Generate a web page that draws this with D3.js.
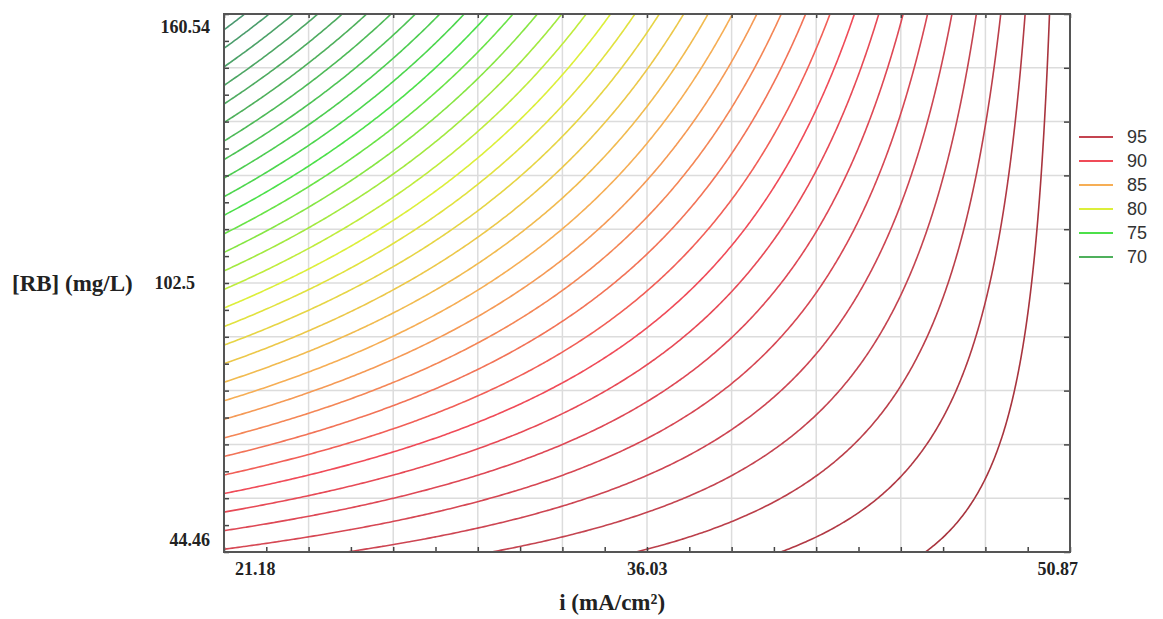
<!DOCTYPE html>
<html>
<head>
<meta charset="utf-8">
<script src="https://cdn.jsdelivr.net/npm/d3@7"></script>
<style>
  body { margin: 0; background: #fff; }
</style>
</head>
<body>
<div id="chart"></div>
<script>
// axis ranges and labels
const iRange = [21.18, 50.87];
const rbRange = [44.46, 160.54];
const xLabels = [21.18, 36.03, 50.87];
const yLabels = [44.46, 102.5, 160.54];

// response surface: Y = b0 + b1*i + b2*RB + b12*i*RB
const modelTerms = ["b0", "i", "RB", "i*RB"];
const modelCoefs = [107.964, -0.1750, -0.42706, 0.008368];

// contour levels drawn (one line per unit)
const levels = [65, 66, 67, 68, 69, 70, 71, 72, 73, 74, 75, 76, 77, 78, 79, 80, 81,
  82, 83, 84, 85, 86, 87, 88, 89, 90, 91, 92, 93, 94, 95, 96, 97, 98];

// colour ramp of the lines
const colorLevels = [65, 70, 75, 80, 85, 90, 95, 98];
const colorValues = ["#4a9870", "#4fb05c", "#4ce04a", "#dcef3a", "#f6ae55", "#f04b58", "#c44450", "#a8343e"];

// legend
const legendLevels = [95, 90, 85, 80, 75, 70];

const margin = {top: 14, right: 93, bottom: 67, left: 224},
  width = 1163 - margin.left - margin.right,
  height = 619 - margin.top - margin.bottom;

const svg = d3.select("#chart")
  .append("svg")
    .attr("width", width + margin.left + margin.right)
    .attr("height", height + margin.top + margin.bottom)
  .append("g")
    .attr("transform", `translate(${margin.left},${margin.top})`);

const x = d3.scaleLinear().domain(iRange).range([0, width]);
const y = d3.scaleLinear().domain(rbRange).range([height, 0]);

const color = d3.scaleLinear().domain(colorLevels).range(colorValues).clamp(true);

const resp = (i, rb) => modelCoefs[0] + modelCoefs[1] * i + modelCoefs[2] * rb + modelCoefs[3] * i * rb;

// grid slightly larger than the plot so the outer ring edges fall outside the clip
const nx = 320, ny = 240;
const iExt = [iRange[0] - 1, iRange[1] + 1];
const rbExt = [rbRange[0] - 4, rbRange[1] + 4];
const gi = d3.scaleLinear().domain([0.5, nx - 0.5]).range(iExt);
const grb = d3.scaleLinear().domain([0.5, ny - 0.5]).range(rbExt);

const values = new Array(nx * ny);
for (let r = 0; r < ny; r++) {
  for (let c = 0; c < nx; c++) {
    values[r * nx + c] = resp(gi(c + 0.5), grb(r + 0.5));
  }
}

const contours = d3.contours().size([nx, ny]).thresholds(levels)(values);

const path = d3.geoPath(d3.geoTransform({
  point: function(px, py) { this.stream.point(x(gi(px)), y(grb(py))); }
}));

svg.append("clipPath").attr("id", "plotclip")
  .append("rect").attr("width", width).attr("height", height);

// grid
const gridX = d3.range(11).map(k => iRange[0] + k * (iRange[1] - iRange[0]) / 10);
const gridY = d3.range(11).map(k => rbRange[0] + k * (rbRange[1] - rbRange[0]) / 10);
svg.append("g").selectAll("line").data(gridX).enter().append("line")
  .attr("x1", d => x(d)).attr("x2", d => x(d))
  .attr("y1", 0).attr("y2", height)
  .attr("stroke", "#dcdcdc").attr("stroke-width", 1.5);
svg.append("g").selectAll("line").data(gridY).enter().append("line")
  .attr("y1", d => y(d)).attr("y2", d => y(d))
  .attr("x1", 0).attr("x2", width)
  .attr("stroke", "#dcdcdc").attr("stroke-width", 1.5);

// contour lines
svg.append("g")
  .attr("clip-path", "url(#plotclip)")
  .selectAll("path")
  .data(contours)
  .enter()
  .append("path")
    .attr("d", path)
    .attr("fill", "none")
    .attr("stroke", d => color(d.value))
    .attr("stroke-width", 1.6)
    .attr("stroke-linejoin", "round");

// ticks, all pointing inward
const minorX = d3.range(21).map(k => iRange[0] + k * (iRange[1] - iRange[0]) / 20);
const minorY = d3.range(21).map(k => rbRange[0] + k * (rbRange[1] - rbRange[0]) / 20);

const styleAxis = g => {
  g.select(".domain").remove();
  g.selectAll(".tick line").attr("stroke", "#444").attr("stroke-width", 1.5);
  g.selectAll(".tick text").remove();
};

svg.append("g").attr("transform", `translate(0,${height})`)
  .call(d3.axisBottom(x).tickValues(minorX).tickSize(-5)).call(styleAxis);
svg.append("g")
  .call(d3.axisLeft(y).tickValues(minorY).tickSize(-5)).call(styleAxis);
svg.append("g")
  .call(d3.axisTop(x).tickValues(gridX).tickSize(-4)).call(styleAxis);
svg.append("g").attr("transform", `translate(${width},0)`)
  .call(d3.axisRight(y).tickValues(gridY).tickSize(-6)).call(styleAxis);

// frame
svg.append("rect")
  .attr("width", width).attr("height", height)
  .attr("fill", "none").attr("stroke", "#555").attr("stroke-width", 2);

// tick labels
svg.append("g").selectAll("text").data(xLabels).enter().append("text")
  .attr("x", (d, k) => x(d) + (k === 0 ? 11 : k === xLabels.length - 1 ? 8 : 0))
  .attr("y", height + 23)
  .attr("text-anchor", (d, k) => k === 0 ? "start" : k === xLabels.length - 1 ? "end" : "middle")
  .style("font", "bold 18px 'Liberation Serif', 'Times New Roman', serif")
  .style("fill", "#222")
  .text(d => d.toFixed(2));

svg.append("g").selectAll("text").data(yLabels).enter().append("text")
  .attr("x", (d, k) => k === 1 ? -29 : -14)
  .attr("y", (d, k) => y(d) + (k === 0 ? -12 : k === yLabels.length - 1 ? 13 : 0))
  .attr("dy", "0.35em")
  .attr("text-anchor", "end")
  .style("font", "bold 18px 'Liberation Serif', 'Times New Roman', serif")
  .style("fill", "#222")
  .text(d => String(d));

// axis titles
svg.append("text")
  .attr("x", x(36.03) - 35)
  .attr("y", height + 58)
  .attr("text-anchor", "middle")
  .style("font", "bold 23px 'Liberation Serif', 'Times New Roman', serif")
  .style("fill", "#222")
  .text("i (mA/cm²)");

svg.append("text")
  .attr("x", -212)
  .attr("y", y(102.5))
  .attr("dy", "0.35em")
  .attr("text-anchor", "start")
  .style("font", "bold 23px 'Liberation Serif', 'Times New Roman', serif")
  .style("fill", "#222")
  .text("[RB] (mg/L)");

// legend
const legend = svg.append("g").attr("transform", `translate(${width + 9},123)`);
const items = legend.selectAll("g").data(legendLevels).enter().append("g")
  .attr("transform", (d, k) => `translate(0,${k * 24})`);
items.append("line")
  .attr("x1", 0).attr("x2", 34)
  .attr("stroke", d => color(d)).attr("stroke-width", 2);
items.append("text")
  .attr("x", 48).attr("dy", "0.35em")
  .style("font", "18px 'Liberation Sans', Arial, sans-serif")
  .style("fill", "#333")
  .text(d => d);
</script>
</body>
</html>
